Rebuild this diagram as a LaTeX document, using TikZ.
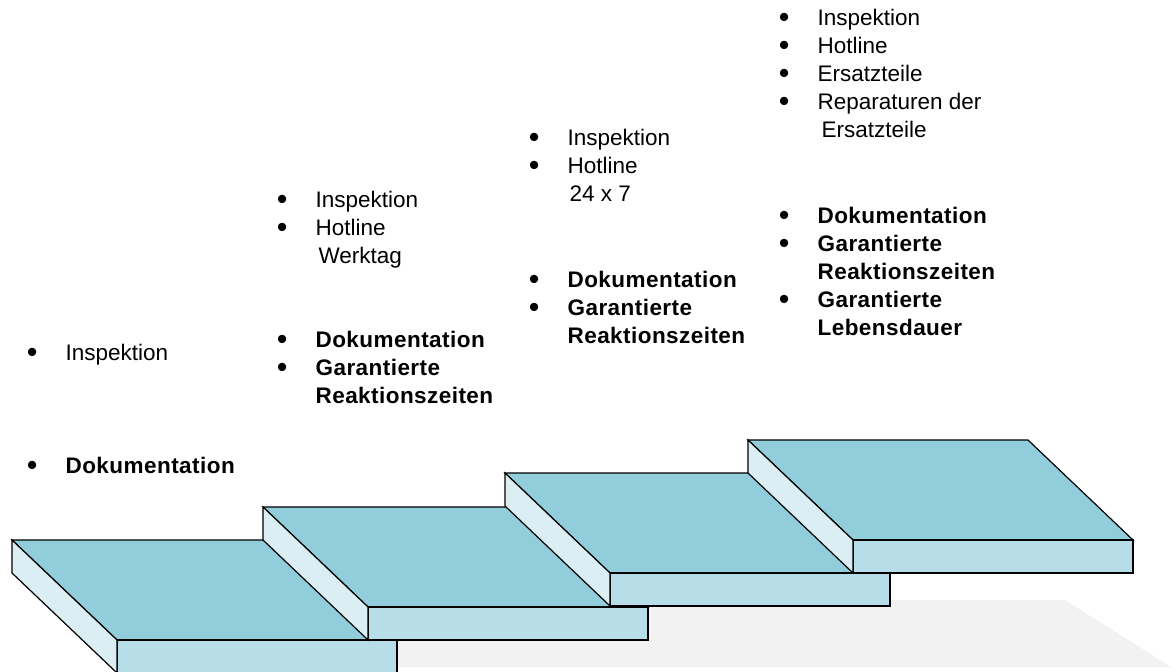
\documentclass[tikz,border=0pt]{standalone}
\usepackage{graphicx}
\usepackage{fontspec}
\setmainfont[BoldFeatures={LetterSpace=2}]{Liberation Sans}
\definecolor{oben}{HTML}{92CDDC}
\definecolor{vorne}{HTML}{B7DEE8}
\definecolor{seite}{HTML}{DAEEF3}
\definecolor{schatten}{HTML}{F2F2F2}
\newcommand{\bul}{\llap{\raisebox{-2pt}{\scalebox{1.35}{\mdseries\textbullet}}\hspace{28pt}}}
% one step, #1,#2 = back left corner of its top face
\newcommand{\stufe}[2]{%
  \draw[fill=oben] (#1,#2) -- ++(280,0) -- ++(105,100) -- ++(-280,0) -- cycle;
  \draw[fill=vorne] (#1+105,#2+100) rectangle ++(280,33);
  \draw[fill=seite] (#1,#2) -- ++(105,100) -- ++(0,33) -- ++(-105,-100) -- cycle;}
\tikzset{stk/.style={anchor=base west,inner sep=0pt,font=\fontsize{22.5}{28}\selectfont},
  fett/.style={stk,font=\fontsize{22.5}{28}\selectfont\bfseries}}
\begin{document}
\begin{tikzpicture}[x=1pt,y=-1pt,line width=1.2pt]
	\useasboundingbox (0,0) rectangle (1171,672);
	\fill[schatten] (380,600) -- (1065,600) -- (1171,667) -- (380,667) -- cycle;
	\stufe{12}{540}
	\stufe{263}{507}
	\stufe{505}{473}
	\stufe{748}{440}
	% Stufe 1
	\node[stk] (s1a) at (65,360) {\bul Inspektion};
	\node[fett] (s1b) at (65,473) {\bul Dokumentation};
	% Stufe 2
	\foreach \t [count=\i from 0] in {{\bul Inspektion},{\bul Hotline},{\hspace*{3pt}Werktag}}
		\node[stk] (s2a\i) at (315,{207+28*\i}) {\t};
	\foreach \t [count=\i from 0] in {{\bul Dokumentation},{\bul Garantierte},{Reaktionszeiten}}
		\node[fett] (s2b\i) at (315,{347+28*\i}) {\t};
	% Stufe 3
	\foreach \t [count=\i from 0] in {{\bul Inspektion},{\bul Hotline},{\hspace*{2pt}24 x 7}}
		\node[stk] (s3a\i) at (567,{145+28*\i}) {\t};
	\foreach \t [count=\i from 0] in {{\bul Dokumentation},{\bul Garantierte},{Reaktionszeiten}}
		\node[fett] (s3b\i) at (567,{287+28*\i}) {\t};
	% Stufe 4
	\foreach \t [count=\i from 0] in {{\bul Inspektion},{\bul Hotline},{\bul Ersatzteile},{\bul Reparaturen der},{\hspace*{4pt}Ersatzteile}}
		\node[stk] (s4a\i) at (817,{25+28*\i}) {\t};
	\foreach \t [count=\i from 0] in {{\bul Dokumentation},{\bul Garantierte},{Reaktionszeiten},{\bul Garantierte},{Lebensdauer}}
		\node[fett] (s4b\i) at (817,{223+28*\i}) {\t};
\end{tikzpicture}
\end{document}
